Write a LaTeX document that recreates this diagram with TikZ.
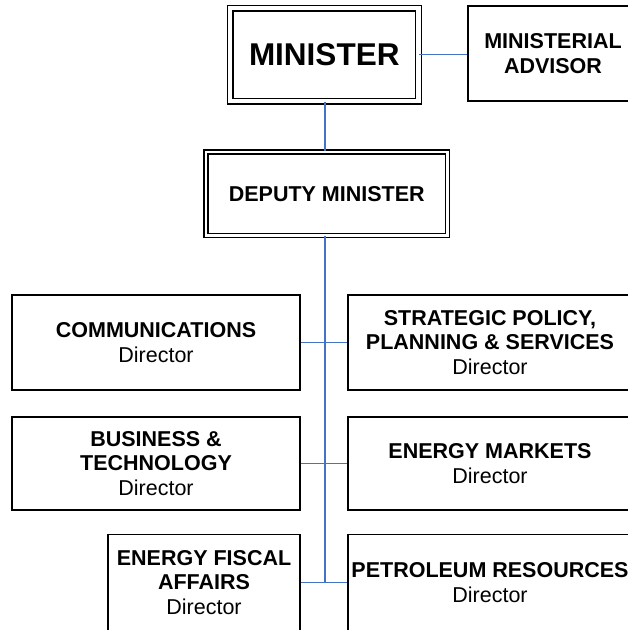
\documentclass[tikz,border=0pt]{standalone}
\usepackage{fontspec}
\setmainfont{Liberation Sans}
\definecolor{linkblue}{RGB}{68,114,196}
\begin{document}
\begin{tikzpicture}[x=1pt,y=-1pt,
  box/.style={draw=black,line width=1.4pt,fill=white,align=center,inner sep=0pt,
    font=\fontsize{21.5}{24.5}\selectfont},
  dbox/.style={box,double,double distance=#1},
  link/.style={draw=linkblue,line width=1.9pt}]
\clip (0,0) rectangle (628,630);
\fill[white] (0,0) rectangle (628,630);
\coordinate (trunkx) at (325,0);
% nodes
\node[dbox=4.2pt,minimum width=188.5pt,minimum height=93pt,font=\fontsize{31.5}{35}\selectfont\bfseries] (min) at (324.25,54.5) {MINISTER};
\node[box,minimum width=170pt,minimum height=95pt] (adv) at (553,53.5) {\textbf{MINISTERIAL}\\\textbf{ADVISOR}};
\node[dbox=2.6pt,minimum width=241.5pt,minimum height=83.5pt] (dep) at (326.75,193.75) {\textbf{DEPUTY MINISTER}};
\node[box,minimum width=288pt,minimum height=95pt] (com) at (156,342.5) {\textbf{COMMUNICATIONS}\\Director};
\node[box,minimum width=284pt,minimum height=95pt] (spp) at (490,342.5) {\textbf{STRATEGIC POLICY,}\\\textbf{PLANNING \& SERVICES}\\Director};
\node[box,minimum width=288pt,minimum height=93pt] (bus) at (156,463.5) {\textbf{BUSINESS \&}\\\textbf{TECHNOLOGY}\\Director};
\node[box,minimum width=284pt,minimum height=93pt] (emk) at (490,463.5) {\textbf{ENERGY MARKETS}\\Director};
\node[box,minimum width=192pt,minimum height=96pt] (efa) at (204,582.5) {\textbf{ENERGY FISCAL}\\\textbf{AFFAIRS}\\Director};
\node[box,minimum width=284pt,minimum height=96pt] (pet) at (490,582.5) {\textbf{PETROLEUM RESOURCES}\\Director};
\coordinate (trunkend) at (trunkx |- pet.west);
% links
\draw[link] (min.east) -- (min.east -| adv.west);
\draw[link] (trunkx |- min.south) -- (trunkx |- dep.north);
\draw[link] (trunkx |- dep.south) -- (trunkend);
\draw[link] (com.east) -- (spp.west);
\draw[link] (bus.east) -- (emk.west);
\draw[link] (efa.east |- pet.west) -- (pet.west);
\end{tikzpicture}
\end{document}
